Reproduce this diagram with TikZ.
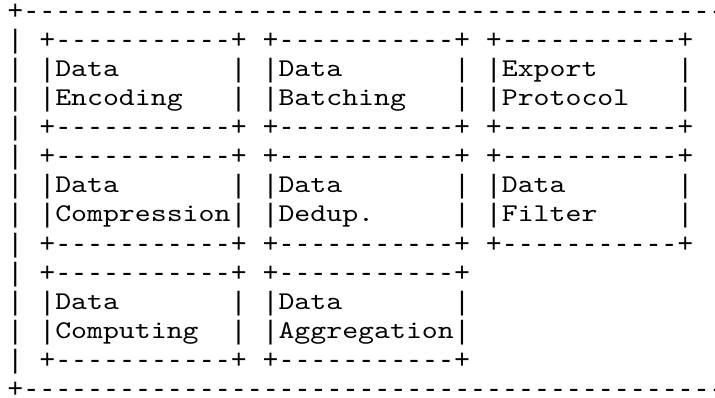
\documentclass[tikz,border=0pt]{standalone}
\usepackage{fontspec}
\setmonofont{lmmono10-regular}[Extension=.otf, FakeStretch=1.19]
\newfontfamily\framefont{Liberation Mono}
\usepackage{tikz}
\usetikzlibrary{positioning}

% a box of the grid: name, column, row, first and second line of text
\newcommand{\asciibox}[5]{%
  \node[rule] (#1top) at (#2,#3)      {+-----------+};
  \node[rule] (#1la)  at (#2,#3+1)    {|};
  \node[word] (#1ta)  at (#2+1,#3+1)  {#4};
  \node[rule] (#1ra)  at (#2+12,#3+1) {|};
  \node[rule] (#1lb)  at (#2,#3+2)    {|};
  \node[word] (#1tb)  at (#2+1,#3+2)  {#5};
  \node[rule] (#1rb)  at (#2+12,#3+2) {|};
  \node[rule] (#1bot) at (#2,#3+3)    {+-----------+};
}

\begin{document}
\begin{tikzpicture}
  \useasboundingbox (0pt,0pt) rectangle (715pt,-398pt);
  \begin{scope}[shift={(7.2pt,-18.3pt)}, x=15.95pt, y=-29.1pt,
      every node/.style={inner sep=0pt, anchor=base west},
      rule/.style={font=\framefont\fontsize{26.6}{29}\selectfont, yshift=-1pt},
      word/.style={font=\ttfamily\fontsize{25.5}{29}\selectfont}]

  % outer frame
  \node[rule] (frametop) at (0,0)  {+--------------------------------------------};
  \foreach \r in {1,...,12}
    \node[rule] (side\r) at (0,\r) {|};
  \node[rule] (framebot) at (0,13) {+--------------------------------------------};

  %\asciibox{name}{col}{row}{line1}{line2}
  \asciibox{enc}{2}{1}{Data}{Encoding}
  \asciibox{bat}{16}{1}{Data}{Batching}
  \asciibox{exp}{30}{1}{Export}{Protocol}

  \asciibox{cmp}{2}{5}{Data}{Compression}
  \asciibox{ddp}{16}{5}{Data}{Dedup.}
  \asciibox{flt}{30}{5}{Data}{Filter}

  \asciibox{cpt}{2}{9}{Data}{Computing}
  \asciibox{agg}{16}{9}{Data}{Aggregation}
  \end{scope}
\end{tikzpicture}
\end{document}
